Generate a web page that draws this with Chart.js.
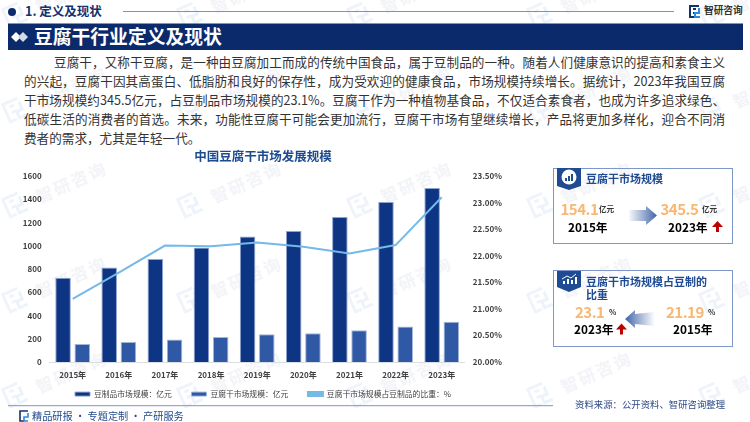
<!DOCTYPE html>
<html>
<head>
<meta charset="utf-8">
<script src="https://cdn.jsdelivr.net/npm/chart.js@4"></script>
<style>
html, body { margin: 0; padding: 0; background: #fff; }
body { width: 750px; height: 422px; position: relative; overflow: hidden; font-family: "Noto Sans CJK SC", "Noto Sans", sans-serif; }
.t { position: absolute; white-space: nowrap; line-height: 1; }
.b { font-weight: 700; }
.line { position: absolute; left: 24px; width: 701px; height: 13px; line-height: 13px; font-size: 12.6px; color: #333; white-space: nowrap; text-align: justify; text-align-last: justify; }
.box { position: absolute; left: 553px; width: 178px; border: 1.5px solid #7d97c9; }
.num { color: #f8b772; font-size: 15px; font-weight: 700; letter-spacing: -0.5px; }
.yr { color: #000; font-size: 11.8px; font-weight: 700; }
.unit { color: #333; font-size: 7.6px; font-weight: 700; }
.head { color: #1f4b93; font-size: 11px; font-weight: 700; }
.wm { position: absolute; color: #f3f4f8; font-weight: 700; font-size: 17px; letter-spacing: 2px; transform: rotate(-24deg); white-space: nowrap; line-height: 1; }
svg { position: absolute; overflow: visible; }
canvas { position: absolute; left: 0; top: 146px; }
</style>
</head>
<body>
<svg width="0" height="0"><defs>
  <linearGradient id="fadeR"><stop offset="0" stop-color="#4a6cab" stop-opacity="0.05"/><stop offset="1" stop-color="#3f64a8"/></linearGradient>
  <linearGradient id="fadeL"><stop offset="0" stop-color="#3f64a8"/><stop offset="1" stop-color="#4a6cab" stop-opacity="0.03"/></linearGradient>
</defs></svg>
<div id="marks"></div>

<!-- header -->
<svg style="left:0;top:0" width="750" height="52">
  <circle cx="12" cy="12" r="4" fill="#0d2b6b"/>
  <line x1="123" y1="11.5" x2="674" y2="11.5" stroke="#7f8fc0" stroke-width="1"/>
  <rect x="8" y="23.5" width="735" height="26.5" fill="#0b2a6b"/>
  <path d="M11 37 l5 -5 l5 5 l-5 5z" fill="#fff"/>
  <path d="M18 37 l5 -5 l5 5 l-5 5z" fill="#d5d9e4"/>
  <g fill="none" stroke-width="2">
    <path d="M699 6 h-9 v11 h5" stroke="#12336f"/>
    <path d="M693 9 h3 M693 13 h3" stroke="#12336f"/>
    <path d="M699 8 v5 h-4 v4 h5" stroke="#2f8bd8"/>
  </g>
</svg>
<div class="t b" style="left:25px;top:5px;font-size:12.5px;color:#13316f">1. 定义及现状</div>
<div class="t b" style="left:704px;top:5.5px;font-size:9.7px;color:#333">智研咨询</div>
<div class="t b" style="left:34px;top:27px;font-size:18.8px;color:#fff">豆腐干行业定义及现状</div>

<!-- intro text -->
<div class="line" style="top:55px;left:54px;width:671px">豆腐干，又称干豆腐，是一种由豆腐加工而成的传统中国食品，属于豆制品的一种。随着人们健康意识的提高和素食主义</div>
<div class="line" style="top:74px">的兴起，豆腐干因其高蛋白、低脂肪和良好的保存性，成为受欢迎的健康食品，市场规模持续增长。据统计，2023年我国豆腐</div>
<div class="line" style="top:93px">干市场规模约345.5亿元，占豆制品市场规模的23.1%。豆腐干作为一种植物基食品，不仅适合素食者，也成为许多追求绿色、</div>
<div class="line" style="top:112px">低碳生活的消费者的首选。未来，功能性豆腐干可能会更加流行，豆腐干市场有望继续增长，产品将更加多样化，迎合不同消</div>
<div class="line" style="top:131px;text-align:left;text-align-last:left">费者的需求，尤其是年轻一代。</div>

<canvas id="barChart" width="526" height="262" style="width:526px;height:262px"></canvas>

<!-- panel 1 -->
<div class="box" style="top:168px;height:74px"></div>
<svg style="left:0;top:0" width="750" height="422">
  <path d="M557 168 h24 v18 l-12 4 l-12 -4z" fill="#1f4b93"/>
  <circle cx="569" cy="177" r="7.5" fill="#fff"/>
  <path d="M565 181 v-3 h2 v3z M568 181 v-5 h2 v5z M571 181 v-7 h2 v7z" fill="#1f4b93"/>
  <path d="M629 210 h17 v-4 l11 9.5 l-11 9.5 v-4 h-17z" fill="url(#fadeR)"/>
  <path d="M716 232 v-5 h-4 l5.5 -6 l5.5 6 h-4 v5z" fill="#c00000"/>

  <path d="M557 270 h24 v17 l-12 5 l-12 -5z" fill="#1f4b93"/>
  <path d="M563 284 v-3 h2 v3z M567 284 v-5 h2 v5z M571 284 v-4 h2 v4z M575 284 v-7 h2 v7z" fill="#fff"/>
  <path d="M562 279 l5 -3 l4 2 l5 -4" fill="none" stroke="#fff" stroke-width="1"/>
  <path d="M654 312 l-19 2 v-4 l-10 9 l10 9 v-4 l19 2z" fill="url(#fadeL)"/>
  <path d="M620 334.5 v-5 h-4 l5.5 -6 l5.5 6 h-4 v5z" fill="#c00000"/>
</svg>
<div class="t head" style="left:586px;top:172.5px">豆腐干市场规模</div>
<div class="t num" style="left:560.5px;top:200.5px">154.1</div>
<div class="t unit" style="left:599px;top:205px">亿元</div>
<div class="t yr" style="left:568px;top:221px">2015年</div>
<div class="t num" style="left:660.5px;top:200.5px">345.5</div>
<div class="t unit" style="left:702px;top:205px">亿元</div>
<div class="t yr" style="left:668px;top:221px">2023年</div>

<!-- panel 2 -->
<div class="box" style="top:270px;height:75px"></div>
<div class="t head" style="left:586px;top:275.5px">豆腐干市场规模占豆制的</div>
<div class="t head" style="left:586px;top:288.5px">比重</div>
<div class="t num" style="left:575px;top:303.5px">23.1</div>
<div class="t unit" style="left:609px;top:308px">%</div>
<div class="t yr" style="left:574px;top:323px">2023年</div>
<div class="t num" style="left:666px;top:303.5px">21.19</div>
<div class="t unit" style="left:708px;top:308px">%</div>
<div class="t yr" style="left:673px;top:323px">2015年</div>

<!-- footer -->
<svg style="left:0;top:0" width="750" height="422">
  <line x1="8" y1="405.7" x2="553" y2="405.7" stroke="#7f93c4" stroke-width="1"/>
  <g fill="none" stroke-width="1.6">
    <path d="M28 411 h-8 v10 h4" stroke="#12336f"/>
    <path d="M28 413 v4 h-4 v4 h4" stroke="#2f8bd8"/>
  </g>
</svg>
<div class="t" style="left:32px;top:411px;font-size:10.2px;color:#1e4a8a">精品研报 · 专题定制 · 产研服务</div>
<div class="t" style="left:575px;top:400px;font-size:9.4px;color:#2f4a85">资料来源：公开资料、智研咨询整理</div>

<script>
// background watermarks
var marks = document.getElementById("marks");
var wmX = [15, 190, 360, 540, 712];
var wmY = [15, 110, 205, 300, 395];
wmY.forEach(function (y) {
    wmX.forEach(function (x) {
        marks.insertAdjacentHTML("beforeend",
            '<svg style="left:' + (x - 12) + 'px;top:' + (y - 12) + 'px" width="24" height="24" transform="rotate(-24)">' +
            '<path d="M19 2 H3 V21 H10 M8 7 H13 M8 13 H13" fill="none" stroke="#f0f4fa" stroke-width="3"/>' +
            '<path d="M19 6 V14 H13 V21 H22" fill="none" stroke="#edf3fa" stroke-width="3"/></svg>' +
            '<div class="wm" style="left:' + (x + 18) + 'px;top:' + (y - 32) + 'px">智研咨询</div>');
    });
});

var labels = ['2015年', '2016年', '2017年', '2018年', '2019年', '2020年', '2021年', '2022年', '2023年'];
var beanProducts = [724, 813, 887, 985, 1080, 1126, 1247, 1376, 1496];
var driedTofu = [154.1, 172, 193, 215, 239, 247, 273, 305, 345.5];
var share = [21.19, 21.68, 22.19, 22.18, 22.25, 22.17, 22.04, 22.2, 23.1];

var tickFont = { family: '"Noto Sans CJK SC", "Noto Sans", sans-serif', size: 8, weight: '700' };

new Chart(document.getElementById("barChart").getContext("2d"), {
    type: 'bar',
    data: {
        labels: labels,
        datasets: [{
            label: '豆制品市场规模：亿元',
            backgroundColor: '#0d3583',
            borderColor: '#8ea3cf',
            borderWidth: 1,
            categoryPercentage: 0.833,
            barPercentage: 0.81,
            order: 2,
            data: beanProducts
        }, {
            label: '豆腐干市场规模：亿元',
            backgroundColor: '#2f59a5',
            borderColor: '#a3b6da',
            borderWidth: 1,
            categoryPercentage: 0.833,
            barPercentage: 0.81,
            order: 2,
            data: driedTofu
        }, {
            label: '豆腐干市场规模占豆制品的比重：%',
            type: 'line',
            yAxisID: 'y1',
            backgroundColor: '#74b9e8',
            borderColor: '#74b9e8',
            borderWidth: 2,
            pointRadius: 0,
            tension: 0,
            order: 1,
            data: share
        }]
    },
    options: {
        responsive: false,
        animation: false,
        plugins: {
            tooltip: { enabled: false },
            title: {
                display: true,
                text: '中国豆腐干市场发展规模',
                color: '#1c4b8f',
                font: { family: tickFont.family, size: 12.5, weight: '700' },
                padding: { top: 3, bottom: 12 }
            },
            legend: {
                position: 'bottom',
                labels: {
                    boxWidth: 15,
                    boxHeight: 4,
                    padding: 4,
                    color: '#404040',
                    font: { family: tickFont.family, size: 7.8 },
                    sort: function (a, b) { return a.datasetIndex - b.datasetIndex; },
                    generateLabels: function (chart) {
                        // wider gap between items without more vertical padding
                        var items = Chart.defaults.plugins.legend.labels.generateLabels(chart);
                        items.forEach(function (item) {
                            if (item.datasetIndex < 2) item.text += '\u3000\u3000';
                        });
                        return items;
                    }
                }
            }
        },
        scales: {
            x: {
                grid: { display: false, drawTicks: false },
                border: { color: '#dcdee6' },
                ticks: { color: '#404040', font: tickFont, padding: 8, maxRotation: 0 },
                afterFit: function (scale) { scale.height = 24.2; }
            },
            y: {
                min: 0,
                max: 1600,
                grid: { display: false, drawTicks: false },
                border: { display: false },
                ticks: {
                    stepSize: 200,
                    color: '#404040',
                    font: tickFont,
                    padding: 8,
                    callback: function (v) { return String(v); }
                },
                afterFit: function (scale) { scale.width = 49.6; }
            },
            y1: {
                position: 'right',
                min: 20,
                max: 23.5,
                grid: { display: false, drawTicks: false },
                border: { display: false },
                ticks: {
                    stepSize: 0.5,
                    color: '#404040',
                    font: tickFont,
                    padding: 8,
                    callback: function (v) { return v.toFixed(2) + '%'; }
                },
                afterFit: function (scale) { scale.width = 61.2; }
            }
        }
    }
});
</script>
</body>
</html>
